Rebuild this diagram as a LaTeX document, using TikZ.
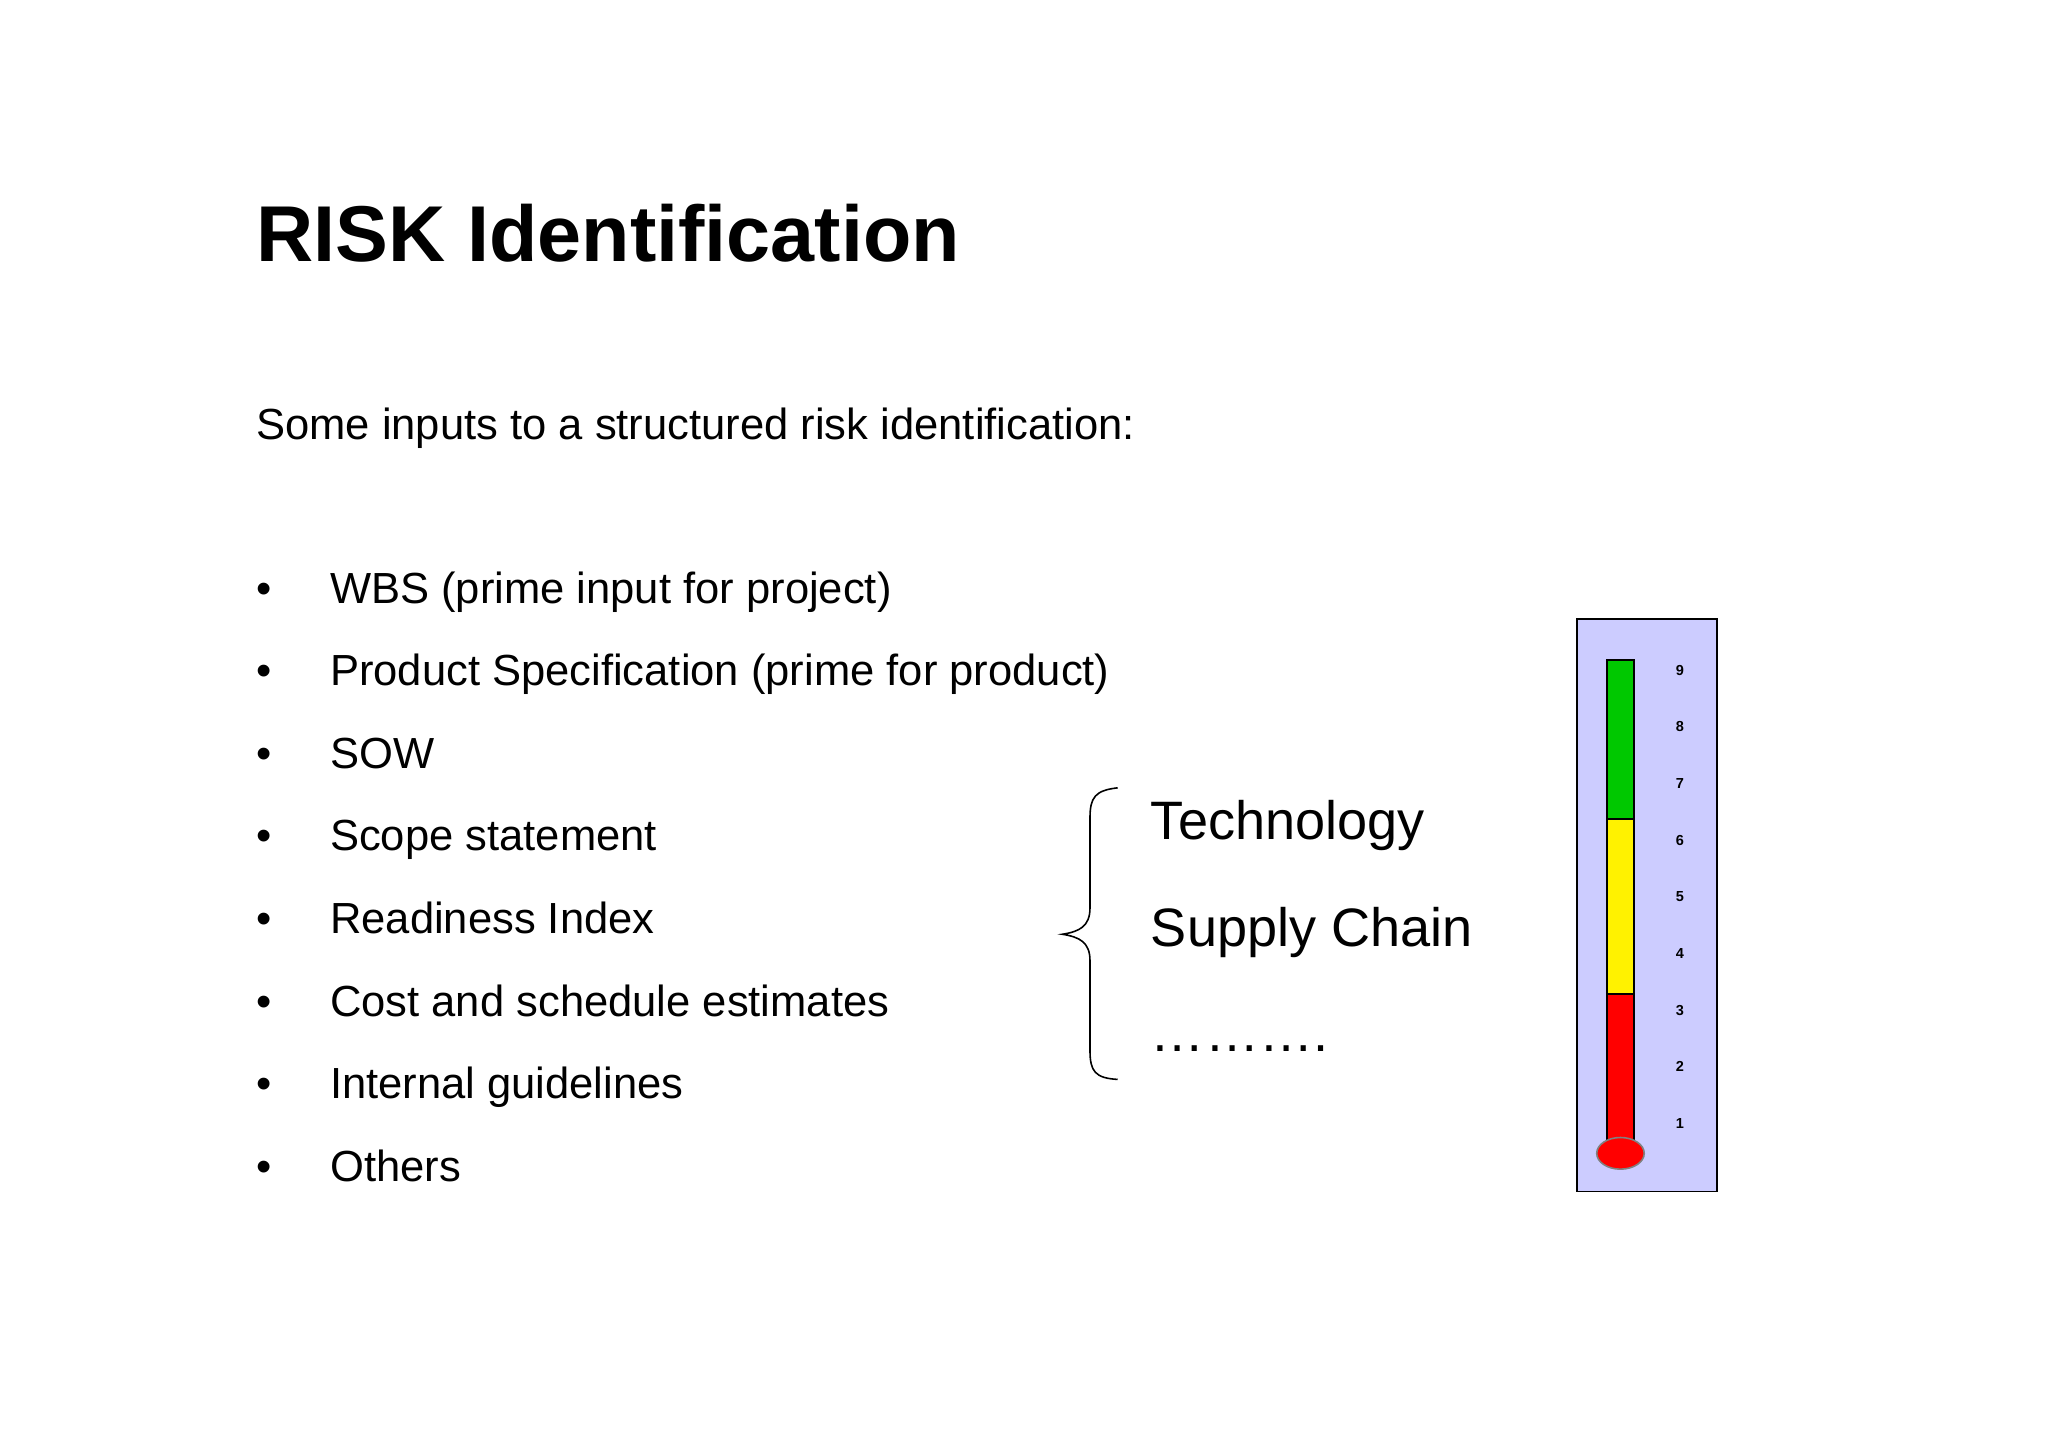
\documentclass[tikz,border=0pt]{standalone}
\usepackage{fontspec}
\setmainfont{Liberation Sans}
\begin{document}
\begin{tikzpicture}[x=1pt,y=-1pt,
  txt/.style={anchor=base west,inner sep=0pt,font=\fontsize{33}{40}\selectfont},
  big/.style={anchor=base west,inner sep=0pt,font=\fontsize{41}{48}\selectfont},
  num/.style={inner sep=0pt,font=\bfseries\fontsize{11}{13}\selectfont}]
\useasboundingbox[fill=white] (0,0) rectangle (1552,1097);
\node[anchor=base west,inner sep=0pt,font=\bfseries\fontsize{60}{70}\selectfont] (title) at (194,198) {RISK Identification};
\node[txt] (sub) at (194,333) {Some inputs to a structured risk identification:};
\foreach \t [count=\i] in {WBS (prime input for project),Product Specification (prime for product),SOW,Scope statement,Readiness Index,Cost and schedule estimates,Internal guidelines,Others}{
  \pgfmathsetmacro{\yy}{457+62.6*(\i-1)}
  \node[txt] (b\i) at (194,\yy) {•};
  \node[txt] (i\i) at (250,\yy) {\t};
}
\draw[line width=1.2pt] (847,597) .. controls (830,599) and (826,604) .. (826,620) -- (826,688) .. controls (826,702) and (818,706) .. (805,708) .. controls (818,710) and (826,714) .. (826,728) -- (826,796) .. controls (826,812) and (830,817) .. (847,818);
\node[big] (tech) at (872,636) {Technology};
\node[big] (sc) at (872,717) {Supply Chain};
\node[big] (dots) at (872,797) {……….};
\draw[line width=1.3pt,fill={rgb,255:red,204;green,204;blue,255}] (1195,469) rectangle (1301,903);
\draw[line width=1.5pt,fill={rgb,255:red,0;green,200;blue,0}] (1218,500) rectangle (1238,621);
\draw[line width=1.5pt,fill=yellow] (1218,621) rectangle (1238,753);
\draw[line width=1.5pt,fill=red] (1218,753) rectangle (1238,866);
\draw[line width=1.2pt,draw=gray,fill=red] (1228,874) ellipse [x radius=18,y radius=12];
\foreach \n [count=\k] in {9,8,7,6,5,4,3,2,1}{
  \pgfmathsetmacro{\yy}{508+42.9*(\k-1)}
  \node[num] (n\n) at (1273,\yy) {\n};
}
\end{tikzpicture}
\end{document}
